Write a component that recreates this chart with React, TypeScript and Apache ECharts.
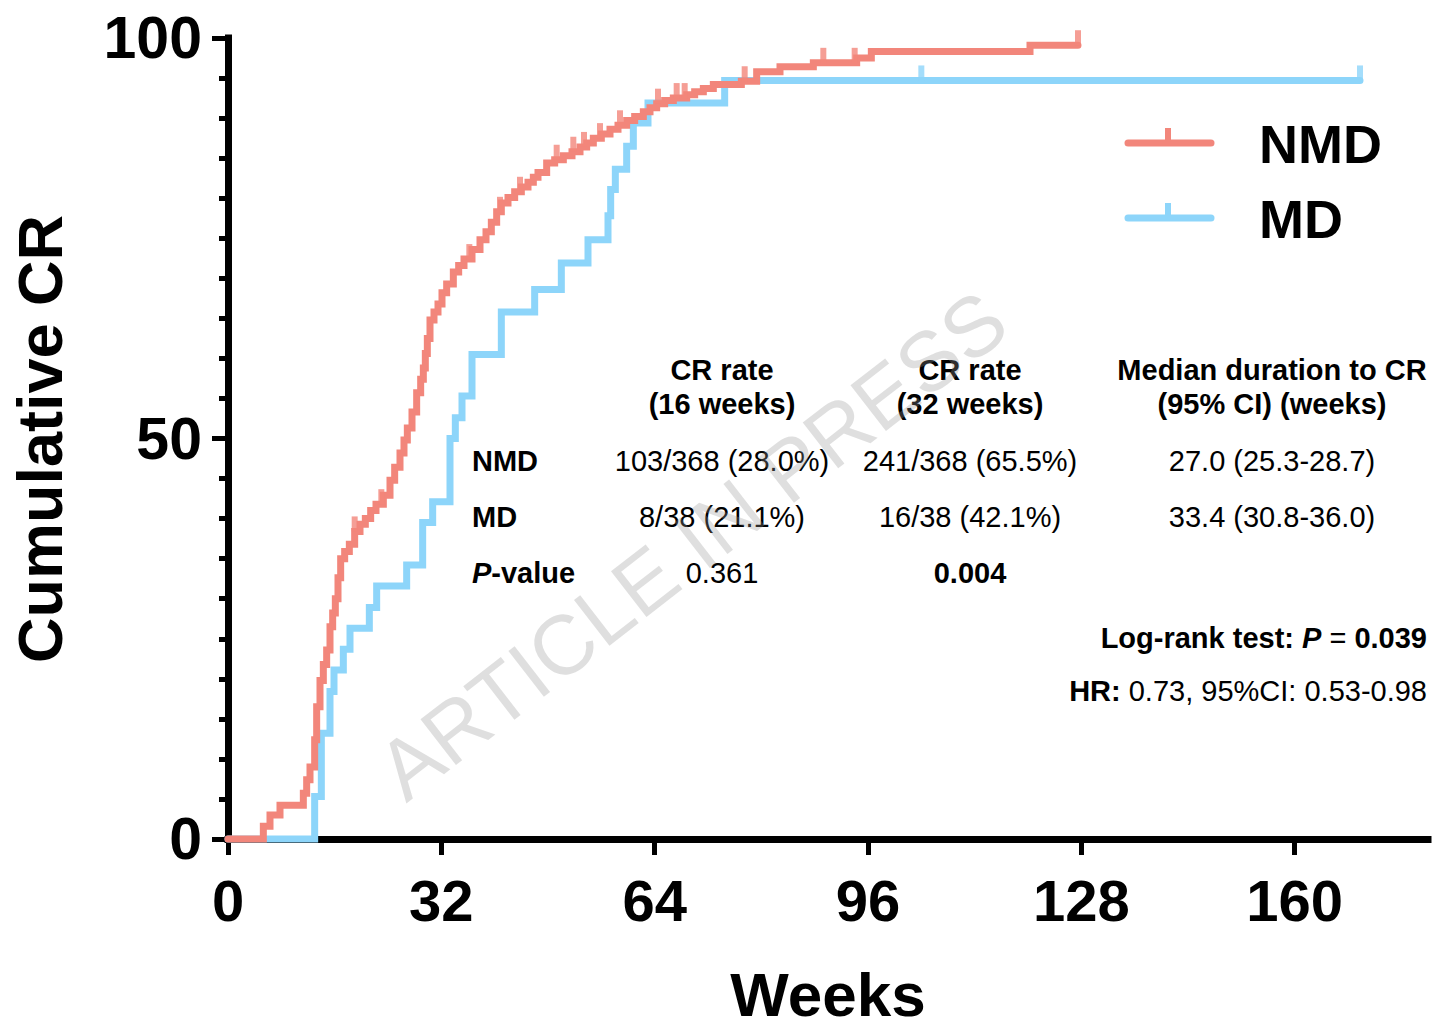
import { useEffect, useRef } from 'react';
import * as echarts from 'echarts';

// ---------- data ----------
const weekTicks = [0, 32, 64, 96, 128, 160];

// Kaplan-Meier style cumulative CR (%) — [week, cumulative %]
const nmdCurve: [number, number][] = [
  [0, 0], [4.5, 0], [5.3, 1.6], [6.3, 3.0], [7.8, 4.2], [10.8, 4.2], [11.3, 5.7],
  [11.8, 7.4], [12.3, 9.0], [13.0, 12.4], [13.3, 16.5], [13.8, 19.8], [14.3, 21.8],
  [14.8, 23.6], [15.3, 26.5], [15.7, 28.2], [16.1, 30.0], [16.5, 32.6], [16.9, 35.0],
  [17.5, 35.9], [18.2, 36.8], [19.0, 38.4], [19.8, 39.3], [20.6, 40.0], [21.4, 41.0],
  [22.2, 41.8], [23.3, 42.9], [24.3, 44.8], [25.0, 46.4], [25.8, 48.2], [26.4, 49.8],
  [26.9, 51.3], [27.6, 53.3], [28.3, 55.7], [28.9, 57.4], [29.3, 58.8], [29.6, 60.6],
  [29.9, 62.5], [30.3, 64.8], [30.9, 65.8], [31.5, 66.8], [32.1, 68.2], [32.8, 69.3],
  [33.8, 70.8], [34.6, 71.6], [35.4, 72.4], [36.6, 73.6], [37.8, 74.8], [38.7, 75.8],
  [39.5, 77.0], [40.3, 78.3], [41.0, 79.4], [42.0, 80.1], [43.0, 80.8], [44.0, 81.4],
  [45.0, 82.0], [45.8, 82.6], [46.5, 83.2], [47.8, 84.4], [49.0, 84.8], [50.3, 85.3],
  [51.6, 85.8], [52.8, 86.4], [53.8, 86.9], [54.8, 87.5], [56.0, 88.0], [57.3, 88.6],
  [58.5, 89.1], [59.8, 89.7], [61.0, 90.2], [62.3, 90.8], [63.3, 91.3], [64.3, 91.8],
  [65.5, 92.2], [66.8, 92.5], [68.8, 92.9], [70.0, 93.3], [71.3, 93.7], [72.8, 94.2],
  [77.0, 94.6], [79.3, 95.8], [82.8, 96.4], [87.8, 96.9], [94.3, 97.5], [96.5, 98.3],
  [120.3, 99.1], [127.5, 99.1],
];

const mdCurve: [number, number][] = [
  [0, 0], [13.0, 5.3], [14.0, 13.2], [15.3, 18.4], [15.9, 21.1], [17.3, 23.7],
  [18.3, 26.3], [21.2, 28.9], [22.3, 31.6], [26.8, 34.2], [29.2, 39.5], [30.7, 42.1],
  [33.3, 50.0], [34.1, 52.6], [35.1, 55.3], [36.6, 60.5], [41.0, 65.8], [46.0, 68.6],
  [50.0, 71.9], [54.0, 74.8], [57.0, 77.8], [57.4, 81.1], [58.1, 83.6], [59.8, 86.5],
  [60.8, 89.4], [63.0, 91.9], [74.5, 94.7], [169.8, 94.7],
];

// censored observations (weeks)
const nmdCensor = [19.0, 23.0, 36.2, 40.8, 43.8, 49.3, 51.8, 53.4, 55.8, 58.8, 64.5, 67.3, 68.5, 77.5, 89.3, 94.0, 127.5];
const mdCensor = [104, 169.8];

const seriesNames = ['NMD', 'MD'];
const colHeaders = [
  ['CR rate', '(16 weeks)'],
  ['CR rate', '(32 weeks)'],
  ['Median duration to CR', '(95% CI) (weeks)'],
];
const nmdRow = ['103/368 (28.0%)', '241/368 (65.5%)', '27.0 (25.3-28.7)'];
const mdRow = ['8/38 (21.1%)', '16/38 (42.1%)', '33.4 (30.8-36.0)'];
const pRow = ['0.361', '0.004'];

// ---------- styling ----------
const NMD_COLOR = '#F2867B';
const MD_COLOR = '#8DD5FA';
const FONT = '"Liberation Sans", Arial, Helvetica, sans-serif';

function valueAt(curve: [number, number][], t: number): number {
  let v = 0;
  for (const [w, p] of curve) if (w <= t) v = p;
  return v;
}

export default function App() {
  const ref = useRef<HTMLDivElement>(null);

  useEffect(() => {
    if (!ref.current) return;
    const chart = echarts.init(ref.current, undefined, { renderer: 'svg' });

    const colX = [722, 970, 1272];
    const rowY = [461, 517, 573];
    const tableFont = `29px ${FONT}`;
    const tableBold = `bold 29px ${FONT}`;
    const tableBoldItalic = `italic bold 29px ${FONT}`;

    const graphics: any[] = [];
    // y axis title
    graphics.push({
      type: 'text', x: 40, y: 439, rotation: Math.PI / 2,
      style: { text: 'Cumulative CR', font: `bold 63px ${FONT}`, fill: '#000', align: 'center', verticalAlign: 'middle' },
    });
    // x axis title
    graphics.push({
      type: 'text', x: 828, y: 994,
      style: { text: 'Weeks', font: `bold 62px ${FONT}`, fill: '#000', align: 'center', verticalAlign: 'middle' },
    });
    // legend
    const legendY = [143, 218];
    const legendColors = [NMD_COLOR, MD_COLOR];
    seriesNames.forEach((name, i) => {
      graphics.push({
        type: 'line', shape: { x1: 1128, y1: legendY[i], x2: 1211, y2: legendY[i] },
        style: { stroke: legendColors[i], lineWidth: 7, lineCap: 'round' },
      });
      graphics.push({
        type: 'rect', shape: { x: 1165, y: legendY[i] - 15, width: 6, height: 15 },
        style: { fill: legendColors[i] },
      });
      graphics.push({
        type: 'text', x: 1259, y: legendY[i] + 1,
        style: { text: name, font: `bold 54px ${FONT}`, fill: '#000', align: 'left', verticalAlign: 'middle' },
      });
    });
    // table headers
    colHeaders.forEach((lines, c) => {
      lines.forEach((t, l) => {
        graphics.push({
          type: 'text', x: colX[c], y: [370, 404][l],
          style: { text: t, font: tableBold, fill: '#000', align: 'center', verticalAlign: 'middle' },
        });
      });
    });
    // row labels
    graphics.push({
      type: 'text', x: 472, y: rowY[0],
      style: { text: seriesNames[0], font: tableBold, fill: '#000', align: 'left', verticalAlign: 'middle' },
    });
    graphics.push({
      type: 'text', x: 472, y: rowY[1],
      style: { text: seriesNames[1], font: tableBold, fill: '#000', align: 'left', verticalAlign: 'middle' },
    });
    graphics.push({
      type: 'text', x: 472, y: rowY[2],
      style: {
        text: '{i|P}{b|-value}', fill: '#000', align: 'left', verticalAlign: 'middle',
        rich: {
          i: { font: tableBoldItalic, fill: '#000' },
          b: { font: tableBold, fill: '#000' },
        },
      },
    });
    [nmdRow, mdRow].forEach((row, r) => {
      row.forEach((t, c) => {
        graphics.push({
          type: 'text', x: colX[c], y: rowY[r],
          style: { text: t, font: tableFont, fill: '#000', align: 'center', verticalAlign: 'middle' },
        });
      });
    });
    pRow.forEach((t, c) => {
      graphics.push({
        type: 'text', x: colX[c], y: rowY[2],
        style: { text: t, font: c === 1 ? tableBold : tableFont, fill: '#000', align: 'center', verticalAlign: 'middle' },
      });
    });
    // statistics
    graphics.push({
      type: 'text', x: 1427, y: 638,
      style: {
        text: '{b|Log-rank test: }{i|P}{r| = }{b|0.039}', align: 'right', verticalAlign: 'middle', fill: '#000',
        rich: {
          b: { font: tableBold, fill: '#000' },
          i: { font: tableBoldItalic, fill: '#000' },
          r: { font: tableFont, fill: '#000' },
        },
      },
    });
    graphics.push({
      type: 'text', x: 1427, y: 691,
      style: {
        text: '{b|HR:}{r| 0.73, 95%CI: 0.53-0.98}', align: 'right', verticalAlign: 'middle', fill: '#000',
        rich: {
          b: { font: tableBold, fill: '#000' },
          r: { font: tableFont, fill: '#000' },
        },
      },
    });
    // watermark
    graphics.push({
      type: 'text', x: 692, y: 545, rotation: 0.66, z: 100,
      style: { text: 'ARTICLE IN PRESS', font: `84px ${FONT}`, fill: 'rgba(150,150,150,0.3)', align: 'center', verticalAlign: 'middle' },
    });

    const option: any = {
      animation: false,
      backgroundColor: '#fff',
      grid: { left: 228, top: 38, width: 1200, height: 801, containLabel: false },
      xAxis: {
        type: 'value', min: 0, max: 180,
        splitLine: { show: false },
        axisLine: { show: true, onZero: false, lineStyle: { color: '#000', width: 7, cap: 'square' } },
        axisTick: { show: true, customValues: weekTicks, length: 16, lineStyle: { color: '#000', width: 5 } },
        axisLabel: {
          customValues: weekTicks, margin: 32, color: '#000', fontSize: 58, fontWeight: 'bold', fontFamily: FONT,
        },
      },
      yAxis: {
        type: 'value', min: 0, max: 100, interval: 50,
        splitLine: { show: false },
        axisLine: { show: true, onZero: false, lineStyle: { color: '#000', width: 7, cap: 'square' } },
        axisTick: { show: true, length: 16, lineStyle: { color: '#000', width: 5 } },
        minorTick: { show: true, splitNumber: 10, length: 9, lineStyle: { color: '#000', width: 5 } },
        minorSplitLine: { show: false },
        axisLabel: { margin: 26, color: '#000', fontSize: 59, fontWeight: 'bold', fontFamily: FONT },
      },
      series: [
        {
          name: seriesNames[1], type: 'line', step: 'end', data: mdCurve, showSymbol: false, symbol: 'none',
          clip: false, z: 3,
          lineStyle: { color: MD_COLOR, width: 7, cap: 'round', join: 'miter' },
        },
        {
          name: seriesNames[1] + ' censored', type: 'scatter', z: 3,
          data: mdCensor.map((w) => [w, valueAt(mdCurve, w)]),
          symbol: 'rect', symbolSize: [6, 15], symbolOffset: [0, -7.5],
          itemStyle: { color: MD_COLOR }, clip: false,
        },
        {
          name: seriesNames[0], type: 'line', step: 'end', data: nmdCurve, showSymbol: false, symbol: 'none',
          clip: false, z: 4,
          lineStyle: { color: NMD_COLOR, width: 7, cap: 'round', join: 'miter' },
        },
        {
          name: seriesNames[0] + ' censored', type: 'scatter', z: 4,
          data: nmdCensor.map((w) => [w, valueAt(nmdCurve, w)]),
          symbol: 'rect', symbolSize: [6, 15], symbolOffset: [0, -7.5],
          itemStyle: { color: NMD_COLOR }, clip: false,
        },
      ],
      graphic: graphics,
    };

    chart.setOption(option);
    return () => chart.dispose();
  }, []);

  return (
    <div
      ref={ref}
      style={{ position: 'absolute', left: 0, top: 0, width: 1449, height: 1028, background: '#fff' }}
    />
  );
}
